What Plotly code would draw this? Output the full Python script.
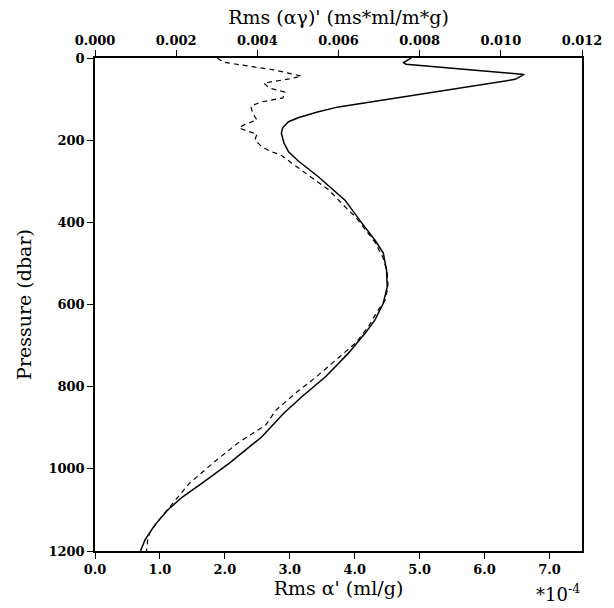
import plotly.graph_objects as go

# Solid curve: Rms alpha' (units of 1e-4 ml/g) vs pressure (dbar)
alpha_p = [0, 11, 15, 40, 52, 71, 90, 106, 119, 131, 145, 155, 170, 183, 207, 228, 252,
           289, 346, 402, 443, 475, 516, 557, 597, 638, 670, 719, 776, 824, 864, 922,
           986, 1035, 1068, 1100, 1137, 1173, 1200]
alpha_v = [4.87, 4.75, 4.79, 6.61, 6.47, 5.69, 4.87, 4.21, 3.75, 3.44, 3.14, 2.98, 2.89,
           2.87, 2.91, 2.98, 3.14, 3.44, 3.85, 4.11, 4.31, 4.44, 4.49, 4.50, 4.44, 4.31,
           4.16, 3.90, 3.55, 3.19, 2.91, 2.57, 2.07, 1.65, 1.35, 1.12, 0.92, 0.77, 0.70]

# Dashed curve: Rms (alpha*gamma)' (ms*ml/m*g) vs pressure (dbar)
ag_p = [0, 10, 20, 29, 44, 51, 61, 73, 83, 97, 107, 117, 136, 151, 161, 170, 178, 185,
        200, 214, 226, 236, 256, 290, 321, 363, 387, 411, 450, 487, 521, 557, 589, 613,
        655, 694, 735, 777, 815, 857, 893, 935, 979, 1035, 1093, 1129, 1156, 1173, 1200]
ag_v = [0.00301, 0.00316, 0.00380, 0.00441, 0.00509, 0.00478, 0.00416, 0.00429, 0.00468,
        0.00463, 0.00409, 0.00384, 0.00389, 0.00399, 0.00370, 0.00355, 0.00375, 0.00399,
        0.00394, 0.00409, 0.00429, 0.00458, 0.00485, 0.00534, 0.00576, 0.00617, 0.00642,
        0.00661, 0.00691, 0.00710, 0.00720, 0.00722, 0.00715, 0.00698, 0.00673, 0.00642,
        0.00593, 0.00544, 0.00495, 0.00446, 0.00421, 0.00355, 0.00299, 0.00233, 0.00184,
        0.00154, 0.00135, 0.00130, 0.00127]

bottom_ticks = [0, 1, 2, 3, 4, 5, 6, 7]
bottom_labels = ["0.0", "1.0", "2.0", "3.0", "4.0", "5.0", "6.0", "7.0"]
top_ticks = [0.000, 0.002, 0.004, 0.006, 0.008, 0.010, 0.012]
top_labels = ["0.000", "0.002", "0.004", "0.006", "0.008", "0.010", "0.012"]
p_ticks = [0, 200, 400, 600, 800, 1000, 1200]

SERIF = "DejaVu Serif"
tickfont = dict(family=SERIF, size=13, color="black", weight="bold")
titlefont = dict(family=SERIF, size=19, color="black")

fig = go.Figure()
fig.add_trace(go.Scatter(x=alpha_v, y=alpha_p, mode="lines", xaxis="x", yaxis="y",
                         line=dict(color="black", width=1.5), showlegend=False))
fig.add_trace(go.Scatter(x=ag_v, y=ag_p, mode="lines", xaxis="x2", yaxis="y",
                         line=dict(color="black", width=1.2, dash="5px,4px"),
                         showlegend=False))

fig.update_layout(
    width=614, height=608,
    margin=dict(l=95, r=29, t=58, b=57),
    paper_bgcolor="white", plot_bgcolor="white",
    xaxis=dict(range=[0, 7.5], tickvals=bottom_ticks, ticktext=bottom_labels,
               ticks="outside", ticklen=6, tickwidth=1.2, tickcolor="black",
               showline=True, linecolor="black", linewidth=1.5, showgrid=False,
               zeroline=False, tickfont=tickfont,
               title=dict(text="Rms α' (ml/g)", font=titlefont, standoff=5)),
    xaxis2=dict(range=[0, 0.012], tickvals=top_ticks, ticktext=top_labels,
                overlaying="x", side="top", anchor="y",
                ticks="outside", ticklen=6, tickwidth=1.2, tickcolor="black",
                showline=True, linecolor="black", linewidth=1.5, showgrid=False,
                zeroline=False, tickfont=tickfont,
                title=dict(text="Rms (αγ)' (ms*ml/m*g)", font=titlefont, standoff=3)),
    yaxis=dict(range=[1200, 0], tickvals=p_ticks,
               ticks="outside", ticklen=6, tickwidth=1.2, tickcolor="black",
               showline=True, linecolor="black", linewidth=1.5, mirror=True,
               showgrid=False, zeroline=False, tickfont=tickfont,
               title=dict(text="Pressure (dbar)", font=titlefont, standoff=12)),
    annotations=[dict(text="*10<sup>-4</sup>", x=(561 - 95) / 490, y=-(593 - 551) / 493,
                      xref="paper", yref="paper", xanchor="center", yanchor="middle",
                      showarrow=False, font=dict(family=SERIF, size=18, color="black"))],
)

fig.write_html("out.html")
